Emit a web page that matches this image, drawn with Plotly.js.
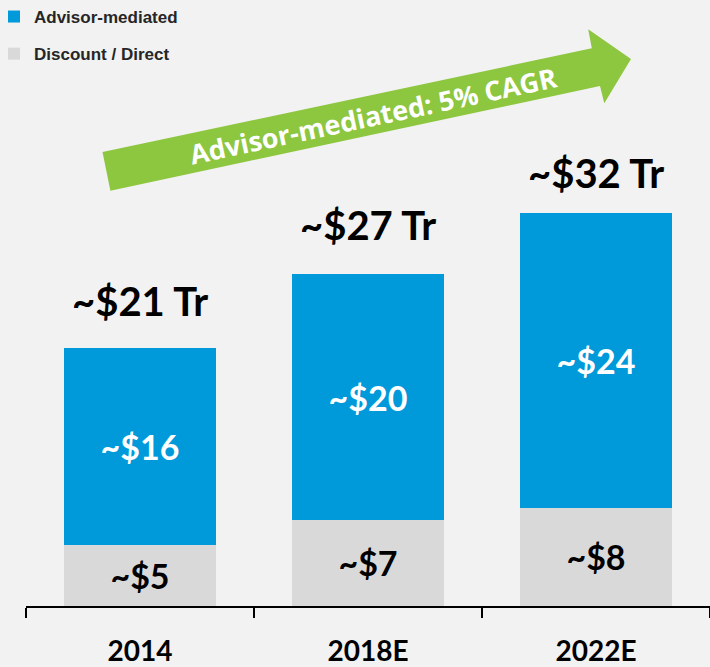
<!DOCTYPE html>
<html>
<head>
<meta charset="utf-8">
<script src="https://cdn.plot.ly/plotly-3.0.1.min.js"></script>
<style>html,body{margin:0;padding:0;background:#f2f2f2;}#chart{width:710px;height:667px;}</style>
</head>
<body>
<div id="chart"></div>
<script>
// ---- data ----
const categories = ["2014", "2018E", "2022E"];
const discountDirect = [5, 7, 8];
const advisorMediated = [16, 20, 24];
const totals = [21, 27, 32];
const discountLabels = ["~$5", "~$7", "~$8"];
const advisorLabels = ["~$16", "~$20", "~$24"];
const totalLabels = ["~$21 Tr", "~$27 Tr", "~$32 Tr"];
const seriesNames = ["Advisor-mediated", "Discount / Direct"];
const arrowLabel = "Advisor-mediated: 5% CAGR";

// ---- layout helpers ----
const W = 710, H = 667;
const M = {l: 26, r: 0, t: 0, b: 61, autoexpand: false};
const PW = W - M.l - M.r, PH = H - M.t - M.b;
const px = x => (x - M.l) / PW;
const py = y => (H - M.b - y) / PH;

const BLUE = "#0099da", GREY = "#d9d9d9", GREEN = "#8dc63f";
const LABEL_FONT = "Lato, 'Open Sans', sans-serif";

const traces = [
  {
    type: "bar", name: seriesNames[1], x: categories, y: discountDirect,
    text: discountLabels, textposition: "inside", insidetextanchor: "middle",
    constraintext: "none", textangle: 0, legendgroup: "g2",
    textfont: {family: LABEL_FONT, size: 34, color: "#000000", weight: "bold"},
    marker: {color: GREY}, width: 0.665, legendrank: 2, hoverinfo: "skip"
  },
  {
    type: "bar", name: seriesNames[0], x: categories, y: advisorMediated,
    text: advisorLabels, textposition: "inside", insidetextanchor: "middle",
    constraintext: "none", textangle: 0, legendgroup: "g1",
    textfont: {family: LABEL_FONT, size: 34, color: "#ffffff", weight: "bold"},
    marker: {color: BLUE}, width: 0.665, legendrank: 1, hoverinfo: "skip"
  }
];

const totalShift = [47, 49, 40];
const annotations = categories.map((c, i) => ({
  x: i, y: totals[i], xref: "x", yref: "y", text: totalLabels[i],
  showarrow: false, yanchor: "middle", yshift: totalShift[i],
  font: {family: LABEL_FONT, size: 40, color: "#000000", weight: "bold"}
}));
annotations.push({
  xref: "paper", yref: "paper", x: px(373), y: py(115), text: arrowLabel,
  showarrow: false, textangle: -12, xanchor: "center", yanchor: "middle",
  font: {family: "'Open Sans', sans-serif", size: 27, color: "#ffffff", weight: "bold"}
});

const arrowPts = [[102.5,152],[591.8,48.3],[588.2,29.3],[631,59],[604.3,103.3],[600,86],[110.4,190.7]];
const path = arrowPts.map((p, i) => (i ? "L" : "M") + px(p[0]).toFixed(5) + "," + py(p[1]).toFixed(5)).join(" ") + " Z";

const layout = {
  width: W, height: H,
  margin: M,
  paper_bgcolor: "#f2f2f2", plot_bgcolor: "#f2f2f2",
  barmode: "stack",
  showlegend: true,
  legend: {
    x: px(-6), y: 1.0017, xanchor: "left", yanchor: "top",
    bgcolor: "rgba(0,0,0,0)", traceorder: "grouped",
    font: {family: "'Liberation Sans', Arial, sans-serif", size: 17, color: "#262626", weight: "bold"},
    tracegroupgap: 12, itemclick: false
  },
  xaxis: {
    type: "category", range: [-0.5, 2.5], fixedrange: true,
    showline: true, linecolor: "#000000", linewidth: 2,
    ticks: "outside", tickson: "boundaries", ticklen: 10, tickwidth: 2, tickcolor: "#000000",
    ticklabelstandoff: 19,
    tickfont: {family: LABEL_FONT, size: 28, color: "#000000", weight: "bold"},
    showgrid: false, zeroline: false
  },
  yaxis: {
    range: [0, 49.3], fixedrange: true, visible: false,
    showgrid: false, zeroline: false
  },
  shapes: [{type: "path", xref: "paper", yref: "paper", path: path,
            fillcolor: GREEN, line: {width: 0}, layer: "below"}],
  annotations: annotations
};

Plotly.newPlot("chart", traces, layout, {displayModeBar: false, staticPlot: true});
</script>
</body>
</html>
